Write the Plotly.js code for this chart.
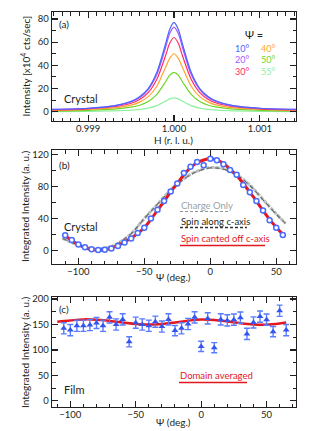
<!DOCTYPE html>
<html>
<head>
<meta charset="utf-8">
<script src="https://cdn.plot.ly/plotly-3.0.1.min.js"></script>
<style>body{margin:0;background:#fff}</style>
</head>
<body>
<div id="fig" style="width:323px;height:431px"></div>
<script>
// panel (a): H scans at several psi
h_rlu = [0.99858, 0.9990, 0.9993, 0.9995, 0.9996, 0.9997, 0.9998, 0.9999, 0.99995, 1.0000,
         1.00005, 1.0001, 1.0002, 1.0003, 1.0004, 1.0005, 1.0007, 1.0010, 1.00142]
psi10 = [2, 3, 5, 9, 13, 20, 34, 58, 71, 77, 71, 58, 34, 20, 13, 9, 5, 3, 2]
psi20 = [2, 3, 5, 8.5, 12, 19, 32, 55, 67.5, 73, 67.5, 55, 32, 19, 12, 8.5, 5, 3, 2]
psi30 = [1.5, 2.5, 4.3, 7.3, 10.6, 16.5, 28, 48, 59, 64, 59, 48, 28, 16.5, 10.6, 7.3, 4.3, 2.5, 1.5]
psi40 = [1, 2, 3.3, 5.7, 8.3, 13, 22, 38, 46, 50, 46, 38, 22, 13, 8.3, 5.7, 3.3, 2, 1]
psi50 = [0.6, 1.2, 2.2, 3.9, 5.6, 8.8, 15, 25.6, 31.5, 34, 31.5, 25.6, 15, 8.8, 5.6, 3.9, 2.2, 1.2, 0.6]
psi55 = [0, 0.3, 0.7, 1.3, 2, 3.1, 5.3, 9, 11.1, 12, 11.1, 9, 5.3, 3.1, 2, 1.3, 0.7, 0.3, 0]
scan_names = ['10°', '20°', '30°', '40°', '50°', '55°']
scan_colors = ['#4a63ff', '#a05cff', '#ff2d62', '#ffa630', '#6fd62a', '#8ef0a0']

// panel (b): crystal azimuthal dependence
psi_b = [-110, -105, -100, -95, -90, -85, -80, -75, -70, -65, -60, -55, -50, -45, -40, -35, -30,
         -25, -20, -15, -10, -5, 0, 5, 10, 15, 20, 25, 30, 35, 40, 45, 50, 55]
int_b = [19, 13, 7.5, 4, 1.5, 0.5, 1, 2.5, 5.5, 10, 15, 22, 28.5, 40, 51, 62, 74,
         84, 97, 105, 111, 107, 115, 113, 108, 101, 95, 82, 73, 62, 50, 38, 28.5, 19.5]
fit_canted = [18.5, 12.5, 7.5, 3.5, 1, 0, 0.8, 3, 6.5, 10.5, 15.5, 21.5, 28.5, 39, 50.5, 61.7, 73.5,
              84, 95, 104, 110, 113.5, 115, 113.5, 109, 102, 94, 84, 73, 62, 50, 39, 29, 20]
psi_calc = [-112, -105, -100, -95, -90, -85, -80, -75, -70, -60, -50, -40, -30, -20, -10, 0, 10, 20, 30, 40, 50, 57]
calc_charge = [15, 10, 6.5, 4, 2.5, 2, 3, 5, 9, 21, 40, 58, 76, 90, 99.5, 104, 102.5, 95, 82, 64, 46, 34]
calc_spin_c = [15, 10, 6.5, 4, 2.5, 2, 3, 5, 9, 21, 40, 58, 75.5, 89.5, 99, 103.5, 102, 94.5, 81.5, 63.5, 45.5, 34]

// panel (c): film
psi_c = [-105, -100, -95, -90, -85, -80, -75, -70, -65, -60, -55, -50, -45, -40, -35, -30, -25, -20,
         -15, -10, -5, 0, 5, 10, 15, 20, 25, 30, 35, 40, 45, 50, 55, 60, 65]
int_c = [142.5, 139, 147.5, 147.5, 149, 153, 147.5, 164, 150, 160, 116, 153.5, 150, 147.5, 155.5, 146, 160, 138,
         142.5, 151, 164, 107, 162, 104.5, 160, 158, 159.5, 163.5, 131.5, 154, 165.5, 159.5, 136, 177, 139]
err_c = [11, 11, 11, 11, 11, 11, 11, 11, 11, 11, 10, 11, 11, 11, 11, 11, 11, 10,
         11, 11, 11, 10, 11, 10, 11, 11, 11, 11, 11, 11, 11, 11, 10, 11, 11]
psi_dom = [-110, -100, -90, -80, -70, -60, -50, -40, -30, -20, -10, 0, 10, 20, 30, 40, 50, 60, 65]
fit_domain = [155.5, 158, 160, 159.5, 157, 154, 151, 150, 151, 154, 157.5, 160, 159, 156, 152.5, 150, 149.5, 152, 154]

var W = 323, H = 431
function px(x) { return x / W }
function py(y) { return 1 - y / H }
var FONT = 'Lato, "Open Sans", sans-serif'
var INK = '#231f20'

var data = []
var scans = [psi10, psi20, psi30, psi40, psi50, psi55]
for (var i = scans.length - 1; i >= 0; i--) {
  data.push({x: h_rlu, y: scans[i], type: 'scatter', mode: 'lines', name: scan_names[i],
    line: {color: scan_colors[i], width: 1.2, shape: 'spline', smoothing: 0.8}, xaxis: 'x', yaxis: 'y'})
}
data.push({x: psi_calc, y: calc_charge, mode: 'lines', line: {color: '#b8c0c0', width: 3, dash: '4px,1px', shape: 'spline'}, xaxis: 'x2', yaxis: 'y2'})
data.push({x: psi_calc, y: calc_spin_c, mode: 'lines', line: {color: '#6a6a6a', width: 1.2, dash: '5px,3px', shape: 'spline'}, xaxis: 'x2', yaxis: 'y2'})
data.push({x: psi_b, y: fit_canted, mode: 'lines', line: {color: '#e3171f', width: 3, shape: 'spline'}, xaxis: 'x2', yaxis: 'y2'})
data.push({x: psi_b, y: int_b, mode: 'markers', xaxis: 'x2', yaxis: 'y2',
  marker: {symbol: 'circle', size: 5, color: '#ffffff', line: {color: '#4a6cff', width: 1.5}}})
data.push({x: psi_dom, y: fit_domain, mode: 'lines', line: {color: '#e3171f', width: 2.5, shape: 'spline'}, xaxis: 'x3', yaxis: 'y3'})
data.push({x: psi_c, y: int_c, mode: 'markers', xaxis: 'x3', yaxis: 'y3',
  error_y: {type: 'data', array: err_c, visible: true, color: '#5a7cff', thickness: 1.4, width: 3},
  marker: {symbol: 'triangle-up', size: 6, color: '#3355ee'}})

function ax(extra) {
  var a = {showline: true, linecolor: INK, linewidth: 1.3, mirror: 'allticks', ticks: 'inside',
    ticklen: 6, tickwidth: 1.1, tickcolor: INK, showgrid: false, zeroline: false,
    tickfont: {family: FONT, size: 9.5, color: INK}}
  for (var k in extra) a[k] = extra[k]
  return a
}
var minor = function (d) { return {dtick: d, ticks: 'inside', ticklen: 3.5, tickwidth: 1, tickcolor: INK} }

var layout = {
  width: W, height: H, margin: {l: 0, r: 0, t: 0, b: 0},
  paper_bgcolor: '#fff', plot_bgcolor: '#fff', showlegend: false,
  xaxis: ax({domain: [px(52), px(296)], anchor: 'y', range: [0.99858, 1.00142], tick0: 0.999, dtick: 0.001, tickformat: '.3f', minor: minor(0.0001), ticklabelstandoff: -2}),
  yaxis: ax({domain: [py(121), py(12)], anchor: 'x', range: [-8, 86], dtick: 20, minor: minor(10)}),
  xaxis2: ax({domain: [px(52), px(296)], anchor: 'y2', range: [-120, 65], dtick: 50, minor: minor(10), ticklabelstandoff: -2}),
  yaxis2: ax({domain: [py(264), py(150)], anchor: 'x2', range: [-17, 126], dtick: 40, minor: minor(20)}),
  xaxis3: ax({domain: [px(52), px(296)], anchor: 'y3', range: [-114, 72.5], dtick: 50, minor: minor(10), ticklabelstandoff: -2}),
  yaxis3: ax({domain: [py(407), py(297)], anchor: 'x3', range: [-12, 204], dtick: 50, minor: minor(25)}),
  annotations: [],
  shapes: []
}

function note(text, x, y, opts) {
  var a = {text: text, x: px(x), y: py(y), xref: 'paper', yref: 'paper', showarrow: false,
    xanchor: 'left', yanchor: 'middle', font: {family: FONT, size: 10, color: INK}}
  for (var k in opts) a[k] = opts[k]
  layout.annotations.push(a)
}
// axis titles
note('Intensity [x10<sup>4</sup> cts/sec]', 25, 66.5, {xanchor: 'center', textangle: -90})
note('H (r. l. u.)', 173, 139.5, {xanchor: 'center'})
note('Integrated Intensity (a. u.)', 25, 207, {xanchor: 'center', textangle: -90})
note('Ψ (deg.)', 173, 277, {xanchor: 'center'})
note('Integrated Intensity (a. u.)', 25, 353, {xanchor: 'center', textangle: -90})
note('Ψ (deg.)', 173, 422, {xanchor: 'center'})
// panel labels
note('(a)', 57, 24)
note('Crystal', 62, 99, {font: {family: FONT, size: 11, color: INK}})
note('Ψ =', 243, 35, {font: {family: FONT, size: 11, color: INK}})
for (var i = 0; i < scan_names.length; i++) {
  var col = Math.floor(i / 3), row = i % 3
  note(scan_names[i], 233 + col * 26, 49 + row * 11, {font: {family: FONT, size: 9, color: scan_colors[i]}})
}
note('(b)', 57, 165)
note('Crystal', 62, 226, {font: {family: FONT, size: 11, color: INK}})
note('Charge Only', 179, 205, {font: {family: FONT, size: 9.5, color: '#9aa4a4'}})
note('Spin along c-axis', 179, 222, {font: {family: FONT, size: 9.5, color: INK}})
note('Spin canted off c-axis', 179, 238.5, {font: {family: FONT, size: 9.5, color: '#e3171f'}})
note('(c)', 57, 309)
note('Film', 62, 389, {font: {family: FONT, size: 11, color: INK}})
note('Domain averaged', 178, 375, {font: {family: FONT, size: 9.5, color: '#e3171f'}})

function seg(x0, x1, y, line) {
  layout.shapes.push({type: 'line', xref: 'paper', yref: 'paper', x0: px(x0), x1: px(x1), y0: py(y), y1: py(y), line: line})
}
seg(180, 230, 211.5, {color: '#8a9494', width: 1.2, dash: '3px,2px'})
seg(180, 247, 227.5, {color: '#333', width: 1.5, dash: '3px,2px'})
seg(180, 265, 245.5, {color: '#e3171f', width: 1.5})
seg(179, 247, 382.5, {color: '#e3171f', width: 1.5})

Plotly.newPlot('fig', data, layout, {staticPlot: true})
</script>
</body>
</html>
